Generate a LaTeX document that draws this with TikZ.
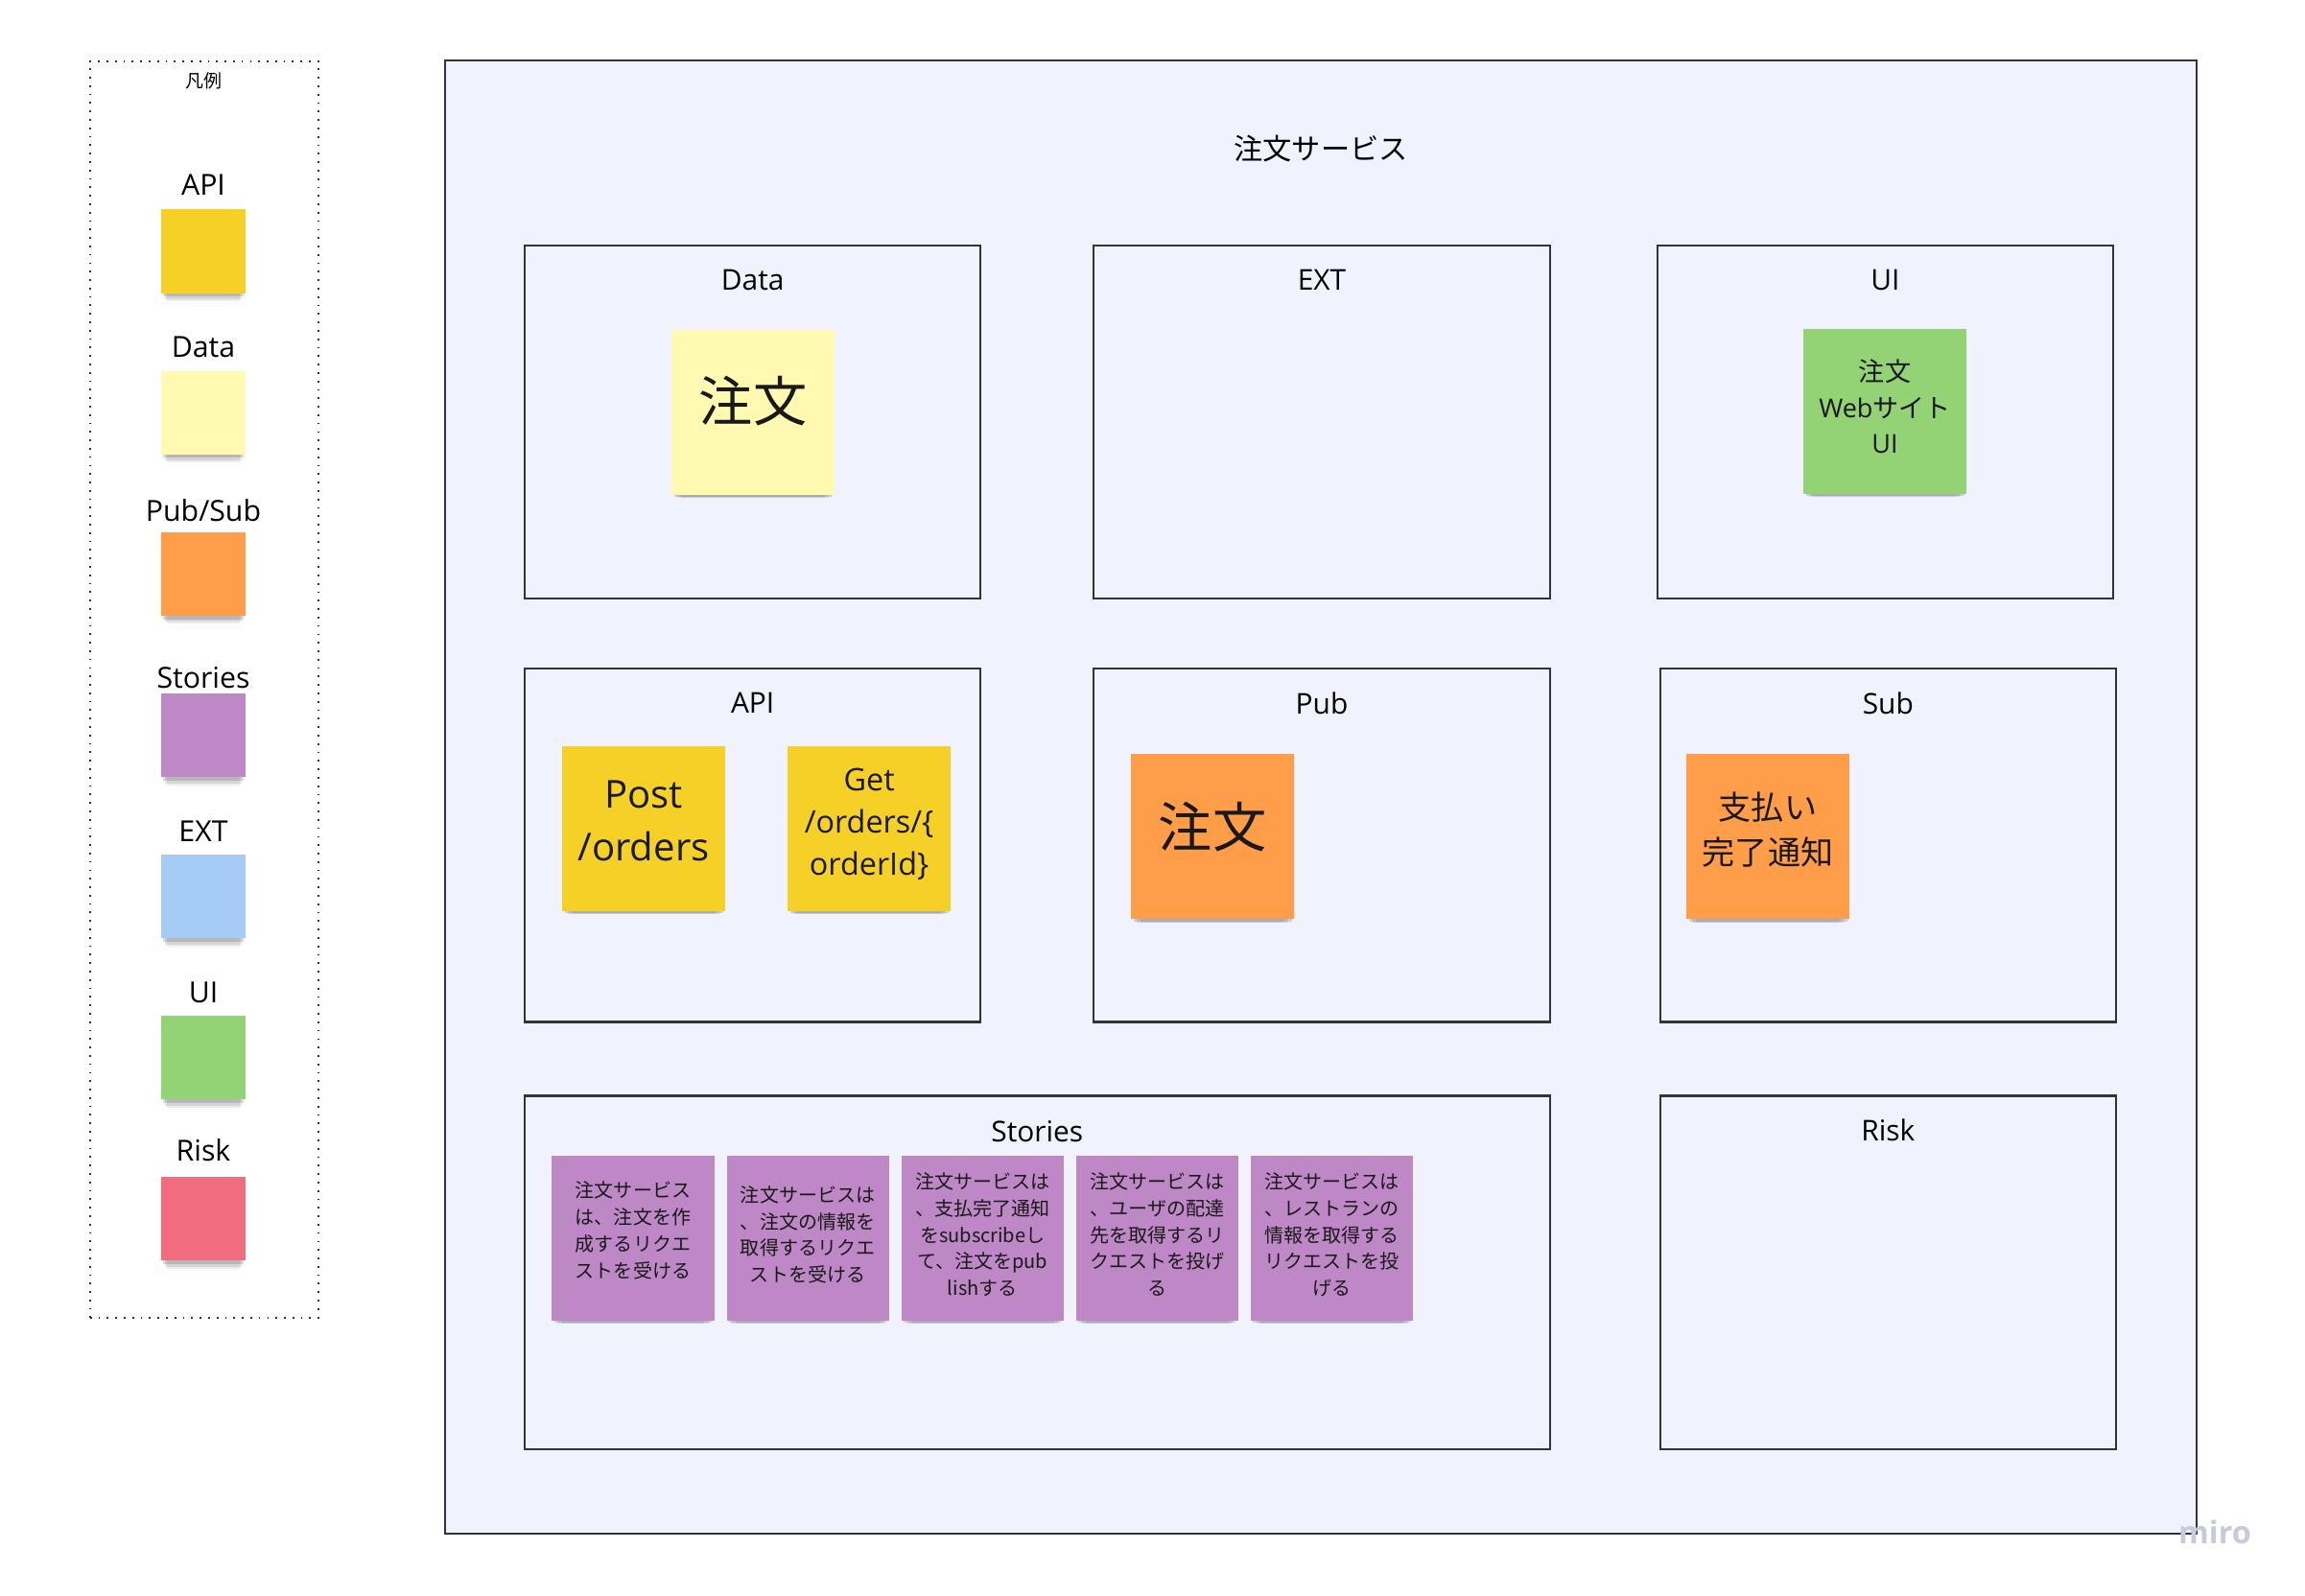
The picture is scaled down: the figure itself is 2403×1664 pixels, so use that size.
\documentclass[tikz,border=0pt]{standalone}
\usepackage{fontspec}
\setmainfont{Open Sans}
\newfontfamily\jp{Noto Sans CJK JP}
\usetikzlibrary{positioning,shadows}
\definecolor{miroFrame}{RGB}{240,242,254}
\definecolor{miroYellow}{RGB}{245,209,40}
\definecolor{miroLightYellow}{RGB}{255,249,177}
\definecolor{miroOrange}{RGB}{255,157,72}
\definecolor{miroViolet}{RGB}{190,136,199}
\definecolor{miroBlue}{RGB}{166,204,245}
\definecolor{miroGreen}{RGB}{147,210,117}
\definecolor{miroRed}{RGB}{241,108,127}
\definecolor{miroMark}{RGB}{200,201,218}

\begin{document}
\begin{tikzpicture}[
  x=0.01cm, y=-0.01cm,
  frame/.style={draw=black!80, line width=0.6pt, fill=miroFrame, anchor=north west,
                inner sep=0, outer sep=0},
  area/.style={frame, minimum width=4.75cm, minimum height=3.68cm},
  areatitle/.style={inner sep=0, font=\fontsize{8.5}{10}\selectfont},
  sticky/.style={minimum width=1.7cm, minimum height=1.71cm, inner sep=1pt, outer sep=0,
                 align=center, text=black!90,
                 drop shadow={shadow xshift=0pt, shadow yshift=-1.5pt, shadow scale=0.97,
                              opacity=0.14, fill=black},
                 drop shadow={shadow xshift=0pt, shadow yshift=-3pt, shadow scale=0.93,
                              opacity=0.10, fill=black},
                 drop shadow={shadow xshift=0pt, shadow yshift=-4.5pt, shadow scale=0.88,
                              opacity=0.07, fill=black}},
  lift/.style={execute at end node={\rule[-#1]{0pt}{0pt}}},
  swatch/.style={sticky, minimum width=0.87cm, minimum height=0.87cm},
  legtitle/.style={inner sep=0, font=\fontsize{8.6}{10}\selectfont},
  story/.style={sticky, minimum width=1.69cm, fill=miroViolet,
                font=\jp\fontsize{5.7}{7.9}\selectfont}
]
\useasboundingbox (0,0) rectangle (2403,1664);

% legend
\node[draw=black!80, dotted, line width=0.5pt, anchor=north west, inner sep=0,
      minimum width=2.38cm, minimum height=13.09cm] (legend) at (93,63) {};
\node[inner sep=0, font=\jp\fontsize{5.4}{6}\selectfont] (legendT) at (212,84) {凡例};
\node[swatch, fill=miroYellow] (legApi) at (212,262) {};
\node[swatch, fill=miroLightYellow, below=0.81cm of legApi] (legData) {};
\node[swatch, fill=miroOrange, below=0.81cm of legData] (legPubSub) {};
\node[swatch, fill=miroViolet, below=0.81cm of legPubSub] (legStories) {};
\node[swatch, fill=miroBlue, below=0.81cm of legStories] (legExt) {};
\node[swatch, fill=miroGreen, below=0.81cm of legExt] (legUi) {};
\node[swatch, fill=miroRed, below=0.81cm of legUi] (legRisk) {};
\node[legtitle, above=0.14cm of legApi] (legApiT) {API};
\node[legtitle, above=0.13cm of legData] (legDataT) {Data};
\node[legtitle, above=0.1cm of legPubSub] (legPubSubT) {Pub/Sub};
\node[legtitle, above=0.04cm of legStories] (legStoriesT) {Stories};
\node[legtitle, above=0.125cm of legExt] (legExtT) {EXT};
\node[legtitle, above=0.125cm of legUi] (legUiT) {UI};
\node[legtitle, above=0.16cm of legRisk] (legRiskT) {Risk};

% service frame
\node[frame, minimum width=18.25cm, minimum height=15.35cm] (service) at (464,63) {};
\node[inner sep=0, font=\jp\fontsize{8.6}{10}\selectfont] (serviceT) at (1377,155) {注文サービス};

% areas
\node[area] (data) at (547,256) {};
\node[area, right=1.18cm of data] (ext) {};
\node[area, right=1.12cm of ext] (ui) {};
\node[area, below=0.73cm of data] (api) {};
\node[area, below=0.73cm of ext] (pub) {};
\node[area, below=0.73cm of ui, xshift=0.03cm] (sub) {};
\node[area, minimum width=10.68cm, below=0.77cm of api.south west, anchor=north west] (stories) {};
\node[area, below=0.77cm of sub] (risk) {};

\node[areatitle, below=0.24cm of data.north] (dataT) {Data};
\node[areatitle, below=0.24cm of ext.north] (extT) {EXT};
\node[areatitle, below=0.24cm of ui.north] (uiT) {UI};
\node[areatitle, below=0.24cm of api.north] (apiT) {API};
\node[areatitle, below=0.24cm of pub.north] (pubT) {Pub};
\node[areatitle, below=0.24cm of sub.north] (subT) {Sub};
\node[areatitle, below=0.25cm of stories.north] (storiesT) {Stories};
\node[areatitle, below=0.24cm of risk.north] (riskT) {Risk};

% stickies
\node[sticky, lift=8pt, fill=miroLightYellow, font=\jp\fontsize{16}{19}\selectfont]
  (order) at (785,430) {注文};
\node[sticky, lift=3pt, fill=miroGreen, font=\fontsize{7.7}{10.7}\selectfont] (orderUi) at (1965,429)
  {{\jp 注文}\\Web{\jp サイト}\\UI};
\node[sticky, lift=4.6pt, fill=miroYellow, font=\fontsize{11.4}{15.7}\selectfont] (postOrders) at (671,864)
  {Post\\/orders};
\node[sticky, lift=4pt, fill=miroYellow, font=\fontsize{9.2}{12.6}\selectfont, right=0.65cm of postOrders]
  (getOrder) {Get\\/orders/\{\\orderId\}};
\node[sticky, lift=7pt, fill=miroOrange, minimum height=1.72cm, font=\jp\fontsize{16}{19}\selectfont]
  (orderPub) at (1264,872) {注文};
\node[sticky, lift=4.6pt, fill=miroOrange, minimum height=1.72cm, font=\jp\fontsize{9.7}{13.5}\selectfont]
  (paidSub) at (1843,872) {支払い\\完了通知};

% stories
\node[story, lift=5pt] (story1) at (660,1291) {注文サービス\\は、注文を作\\成するリクエ\\ストを受ける};
\node[story, lift=2.5pt, right=0.13cm of story1] (story2) {注文サービスは\\、注文の情報を\\取得するリクエ\\ストを受ける};
\node[story, lift=2.5pt, right=0.13cm of story2] (story3) {注文サービスは\\、支払完了通知\\をsubscribeし\\て、注文をpub\\lishする};
\node[story, lift=2.5pt, right=0.13cm of story3] (story4) {注文サービスは\\、ユーザの配達\\先を取得するリ\\クエストを投げ\\る};
\node[story, lift=2.5pt, right=0.13cm of story4] (story5) {注文サービスは\\、レストランの\\情報を取得する\\リクエストを投\\げる};

\node[text=miroMark, font=\bfseries\fontsize{9.2}{10}\selectfont] (mark) at (2309,1597) {miro};
\end{tikzpicture}
\end{document}
